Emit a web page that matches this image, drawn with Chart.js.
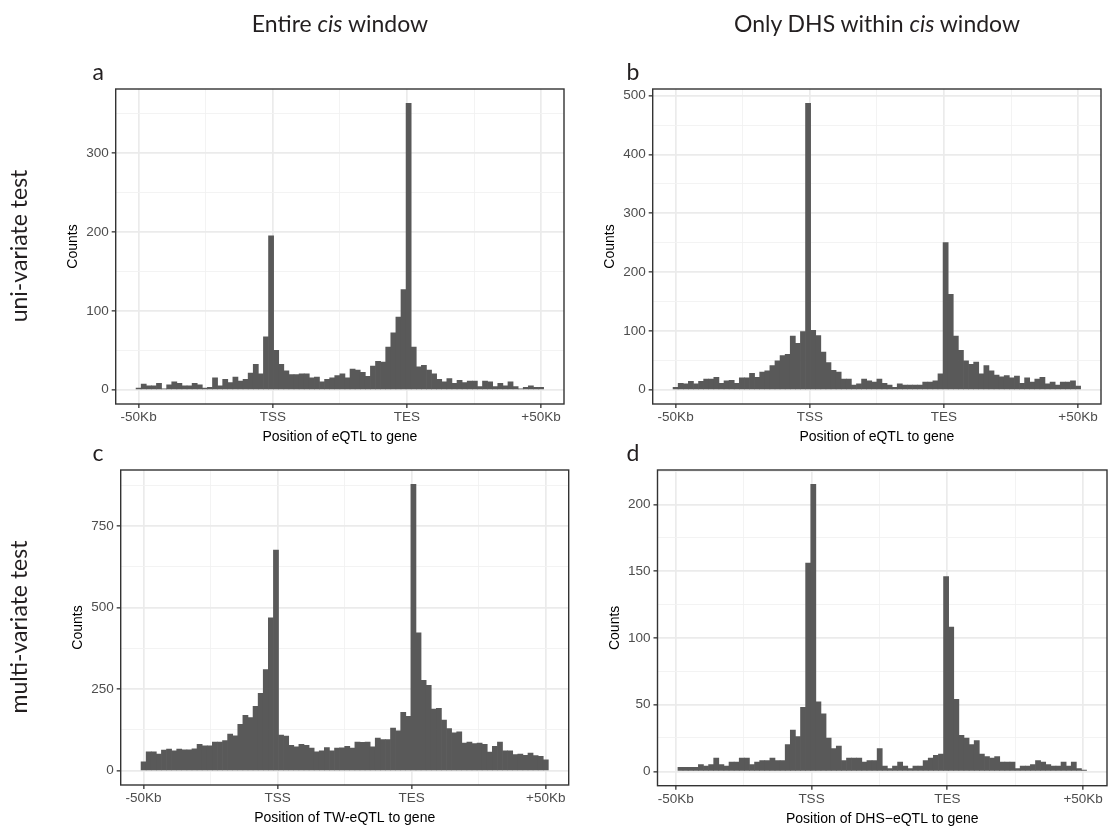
<!DOCTYPE html>
<html>
<head>
<meta charset="utf-8">
<title>eQTL position histograms</title>
<script src="https://cdn.jsdelivr.net/npm/chart.js@4.4.1/dist/chart.umd.min.js"></script>
<style>
  html, body { margin: 0; padding: 0; background: #fff; overflow: hidden; }
  #fig { position: relative; width: 1109px; height: 829px; background: #fff; overflow: hidden; }
  #fig canvas { position: absolute; left: 0; top: 0; }
  .lbl {
    position: absolute;
    font-family: Lato, "Open Sans", "Noto Sans", sans-serif;
    font-size: 23px;
    line-height: 1.2;
    color: #231f20;
    white-space: nowrap;
  }
  .center { transform: translateX(-50%); }
  .row { transform: translate(-50%, -50%) rotate(-90deg); }
</style>
</head>
<body>
<div id="fig">
  <canvas id="pa" width="1109" height="829"></canvas>
  <canvas id="pb" width="1109" height="829"></canvas>
  <canvas id="pc" width="1109" height="829"></canvas>
  <canvas id="pd" width="1109" height="829"></canvas>

  <div class="lbl center" style="left:340px; top:10px;">Entire <i>cis</i> window</div>
  <div class="lbl center" style="left:877px; top:10px;">Only DHS within <i>cis</i> window</div>

  <div class="lbl row" style="left:19px; top:246px;">uni-variate test</div>
  <div class="lbl row" style="left:19px; top:627px;">multi-variate test</div>

  <div class="lbl" style="left:92.5px; top:57.7px;">a</div>
  <div class="lbl" style="left:626.5px; top:57.7px;">b</div>
  <div class="lbl" style="left:92.5px; top:438.7px;">c</div>
  <div class="lbl" style="left:626.5px; top:438.7px;">d</div>
</div>

<script>
// ---- data: counts per bin (80 bins spanning -50Kb .. TSS .. TES .. +50Kb) ----
const countsA = [2, 7, 5, 5, 8, 1, 6, 10, 8, 5, 5, 8, 6, 2, 3, 15, 5, 13, 9, 16,
                 11, 13, 21, 32, 20, 67, 195, 50, 32, 24, 19, 19, 20, 20, 15, 16, 10, 13, 15, 18,
                 20, 15, 26, 25, 22, 17, 30, 36, 35, 54, 72, 92, 127, 363, 54, 29, 31, 25, 20, 13,
                 10, 14, 8, 12, 9, 11, 11, 4, 11, 10, 4, 8, 5, 10, 4, 1, 3, 5, 3, 3];

const countsB = [4, 11, 10, 14, 10, 14, 18, 18, 21, 11, 15, 16, 11, 20, 20, 28, 21, 30, 32, 41,
                 49, 58, 60, 91, 79, 99, 487, 101, 92, 64, 46, 33, 30, 18, 18, 8, 10, 18, 15, 13,
                 18, 11, 8, 4, 10, 8, 8, 8, 8, 13, 13, 15, 27, 250, 162, 91, 67, 49, 43, 47,
                 27, 41, 32, 25, 22, 24, 20, 23, 11, 20, 13, 18, 21, 10, 13, 8, 13, 13, 15, 6];

const countsC = [27, 58, 58, 51, 63, 66, 61, 66, 64, 64, 67, 81, 76, 76, 88, 88, 92, 112, 107, 142,
                 170, 163, 197, 237, 310, 469, 676, 109, 106, 78, 73, 81, 78, 69, 58, 61, 71, 61, 69, 70,
                 75, 69, 88, 87, 88, 73, 100, 95, 95, 131, 122, 179, 167, 878, 423, 277, 262, 189, 191, 155,
                 129, 116, 119, 85, 88, 83, 85, 81, 57, 75, 88, 61, 61, 49, 51, 47, 54, 46, 44, 33];

const countsD = [3, 3, 3, 3, 5, 4, 5, 10, 5, 4, 7, 7, 10, 10, 5, 7, 8, 8, 10, 8,
                 8, 20, 31, 26, 48, 156, 215, 52, 43, 25, 17, 19, 8, 10, 10, 10, 7, 8, 8, 17,
                 4, 2, 4, 7, 4, 2, 4, 4, 8, 10, 12, 13, 146, 108, 54, 27, 25, 20, 23, 13,
                 11, 10, 11, 7, 7, 7, 2, 4, 4, 5, 8, 7, 5, 4, 4, 7, 4, 7, 2, 1];

// x axis: tick labels and where they fall in bin units
const xTickLabels = ['-50Kb', 'TSS', 'TES', '+50Kb'];
const xTickPosFull = [0, 79 / 3, 158 / 3, 79];
const xTickPosDHS = [-0.94, 25.65, 52.24, 78.83];

// y axis tick values per panel
const yTicksA = [0, 100, 200, 300];
const yTicksB = [0, 100, 200, 300, 400, 500];
const yTicksC = [0, 250, 500, 750];
const yTicksD = [0, 50, 100, 150, 200];

const xTitles = ['Position of eQTL to gene', 'Position of eQTL to gene',
                 'Position of TW-eQTL to gene', 'Position of DHS\u2212eQTL to gene'];

// ---- drawing ----
const PAGE_W = 1109, PAGE_H = 829;
const Y_W = 55, X_H = 46;          // space reserved for axis labels + titles
const X_MIN = -4.5, X_MAX = 83.5;  // bin range plus 5% expansion
const AXIS_FONT = '"Liberation Sans", Arial, Helvetica, sans-serif';

const panels = [
  { id: 'pa', counts: countsA, yTicks: yTicksA, xPos: xTickPosFull, xTitle: xTitles[0],
    area: { left: 115.7, right: 564, top: 89, bottom: 404 } },
  { id: 'pb', counts: countsB, yTicks: yTicksB, xPos: xTickPosFull, xTitle: xTitles[1],
    area: { left: 652.7, right: 1101, top: 89, bottom: 404 } },
  { id: 'pc', counts: countsC, yTicks: yTicksC, xPos: xTickPosFull, xTitle: xTitles[2],
    area: { left: 120.7, right: 568.7, top: 470, bottom: 785 } },
  { id: 'pd', counts: countsD, yTicks: yTicksD, xPos: xTickPosDHS, xTitle: xTitles[3],
    area: { left: 657.5, right: 1107, top: 470, bottom: 785.7 } }
];

// major ticks plus minor gridlines halfway between (and one step beyond the ends if visible)
function tickSet(majors, labels, lo, hi) {
  const out = majors.map((v, i) => ({ value: v, txt: labels[i], minor: false }));
  for (let i = 0; i < majors.length - 1; i++) {
    out.push({ value: (majors[i] + majors[i + 1]) / 2, txt: '', minor: true });
  }
  const step = (majors[1] - majors[0]) / 2;
  const below = majors[0] - step, above = majors[majors.length - 1] + step;
  if (below > lo) out.push({ value: below, txt: '', minor: true });
  if (above < hi) out.push({ value: above, txt: '', minor: true });
  return out.sort((a, b) => a.value - b.value);
}

const gridStyle = {
  offset: false,
  color: c => (c.tick && c.tick.minor ? '#F2F2F2' : '#EBEBEB'),
  lineWidth: c => (c.tick && c.tick.minor ? 0.9 : 1.7),
  tickColor: c => (c.tick && c.tick.minor ? 'rgba(0,0,0,0)' : '#333333'),
  tickWidth: 1.3,
  tickLength: 4,
  drawTicks: true,
  drawOnChartArea: true
};

const panelBorder = {
  id: 'panelBorder',
  afterDatasetsDraw(chart) {
    const { ctx, chartArea: a } = chart;
    ctx.save();
    ctx.strokeStyle = '#333333';
    ctx.lineWidth = 1.4;
    ctx.strokeRect(a.left, a.top, a.right - a.left, a.bottom - a.top);
    ctx.restore();
  }
};

panels.forEach(p => {
  const peak = Math.max(...p.counts);
  const yMin = -0.05 * peak, yMax = 1.05 * peak;
  const yLabels = p.yTicks.map(String);

  new Chart(document.getElementById(p.id), {
    type: 'bar',
    data: {
      datasets: [{
        data: p.counts.map((v, i) => ({ x: i, y: v })),
        backgroundColor: '#595959',
        borderWidth: 0,
        barPercentage: 1,
        categoryPercentage: 1
      }]
    },
    options: {
      responsive: false,
      animation: false,
      devicePixelRatio: 1,
      layout: {
        padding: {
          left: p.area.left - Y_W,
          top: p.area.top,
          right: PAGE_W - p.area.right,
          bottom: PAGE_H - p.area.bottom - X_H
        }
      },
      plugins: { legend: { display: false }, tooltip: { enabled: false } },
      scales: {
        x: {
          type: 'linear',
          offset: false,
          min: X_MIN,
          max: X_MAX,
          afterBuildTicks: s => { s.ticks = tickSet(p.xPos, xTickLabels, X_MIN, X_MAX); },
          afterFit: s => { s.height = X_H; },
          grid: gridStyle,
          border: { display: false },
          ticks: {
            autoSkip: false, maxRotation: 0, minRotation: 0, padding: 1,
            color: '#4D4D4D', font: { family: AXIS_FONT, size: 13.5 },
            callback: (v, i, ticks) => ticks[i].txt
          },
          title: {
            display: true, text: p.xTitle, color: '#000000',
            font: { family: AXIS_FONT, size: 14 }, padding: { top: 4, bottom: 4 }
          }
        },
        y: {
          type: 'linear',
          offset: false,
          min: yMin,
          max: yMax,
          afterBuildTicks: s => { s.ticks = tickSet(p.yTicks, yLabels, yMin, yMax); },
          afterFit: s => { s.width = Y_W; },
          grid: gridStyle,
          border: { display: false },
          ticks: {
            autoSkip: false, padding: 3,
            color: '#4D4D4D', font: { family: AXIS_FONT, size: 13.5 },
            callback: (v, i, ticks) => ticks[i].txt
          },
          title: {
            display: true, text: 'Counts', color: '#000000',
            font: { family: AXIS_FONT, size: 14 }, padding: { top: 4, bottom: 4 }
          }
        }
      }
    },
    plugins: [panelBorder]
  });
});
</script>
</body>
</html>
